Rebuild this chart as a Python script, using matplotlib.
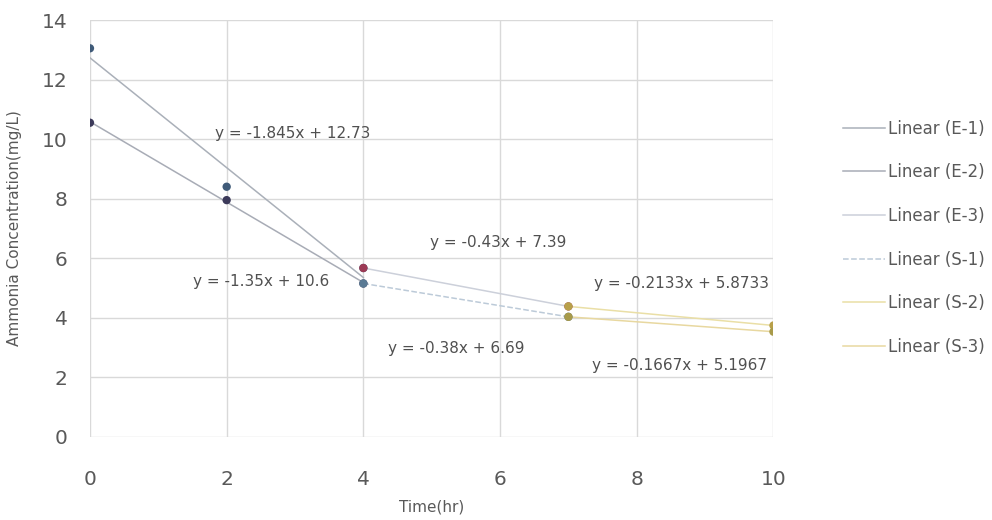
import numpy as np
import matplotlib.pyplot as plt

# measured points per series (Time in hr, ammonia in mg/L)
e1_x = [0, 2, 4]
e1_y = [13.05, 8.40, 5.67]
e2_x = [0, 2, 4]
e2_y = [10.55, 7.95, 5.15]
e3_x = [4, 7]
e3_y = [5.67, 4.38]
s1_x = [4, 7]
s1_y = [5.15, 4.03]
s2_x = [7, 10]
s2_y = [4.38, 3.74]
s3_x = [7, 10]
s3_y = [4.03, 3.53]

names = ['E-1', 'E-2', 'E-3', 'S-1', 'S-2', 'S-3']
equations = ['y = -1.845x + 12.73', 'y = -1.35x + 10.6', 'y = -0.43x + 7.39',
             'y = -0.38x + 6.69', 'y = -0.2133x + 5.8733', 'y = -0.1667x + 5.1967']
label_pos = [(1.83, 10.2), (1.51, 5.2), (4.98, 6.51), (4.36, 2.95), (7.38, 5.14), (7.35, 2.38)]

series = [(e1_x, e1_y), (e2_x, e2_y), (e3_x, e3_y), (s1_x, s1_y), (s2_x, s2_y), (s3_x, s3_y)]
marker_colors = ['#3f5a78', '#3c3a5a', '#9c3a55', '#5a7a94', '#b8a04a', '#a89a4a']
line_colors = ['#aab0b9', '#a8acb6', '#ccd0da', '#bccad8', '#eadfa6', '#e8d8a0']
line_styles = ['-', '-', '-', '--', '-', '-']

fig = plt.figure(figsize=(9.92, 5.2), dpi=100)
ax = fig.add_axes([0.0907, 0.16, 0.689, 0.8015])

for (x, y), mc, lc, ls, nm, eq, pos in zip(series, marker_colors, line_colors,
                                            line_styles, names, equations, label_pos):
    k, b = np.polyfit(x, y, 1)
    xs = np.array([min(x), max(x)])
    ax.plot(xs, k * xs + b, color=lc, lw=1.1, ls=ls, label='Linear (%s)' % nm, zorder=2)
    ax.scatter(x, y, s=36, color=mc, zorder=3, edgecolors='none')
    ax.text(pos[0], pos[1], eq, fontsize=11, color='#505050', va='center', ha='left')

ax.set_xlim(0, 10)
ax.set_ylim(0, 14)
ax.set_xticks(range(0, 11, 2))
ax.set_yticks(range(0, 15, 2))
ax.grid(True, color='#d9d9d9', lw=1)
ax.set_axisbelow(True)
for sp in ax.spines.values():
    sp.set_visible(False)
ax.tick_params(length=0, labelsize=14.5, colors='#595959')
ax.tick_params(axis='x', pad=24)
ax.tick_params(axis='y', pad=16)
ax.set_xlabel('Time(hr)', fontsize=11, color='#595959')
ax.set_ylabel('Ammonia Concentration(mg/L)', fontsize=11, color='#595959')
ax.xaxis.set_label_coords(0.5, -0.151)
ax.yaxis.set_label_coords(-0.0996, 0.5)

leg = ax.legend(loc='upper left', bbox_to_anchor=(0.8498, 0.770), bbox_transform=fig.transFigure,
                frameon=False, fontsize=12, labelspacing=1.54, handlelength=2.5,
                handletextpad=0.2, borderpad=0, borderaxespad=0)
for t in leg.get_texts():
    t.set_color('#595959')

fig.savefig('out.png', dpi=100)
